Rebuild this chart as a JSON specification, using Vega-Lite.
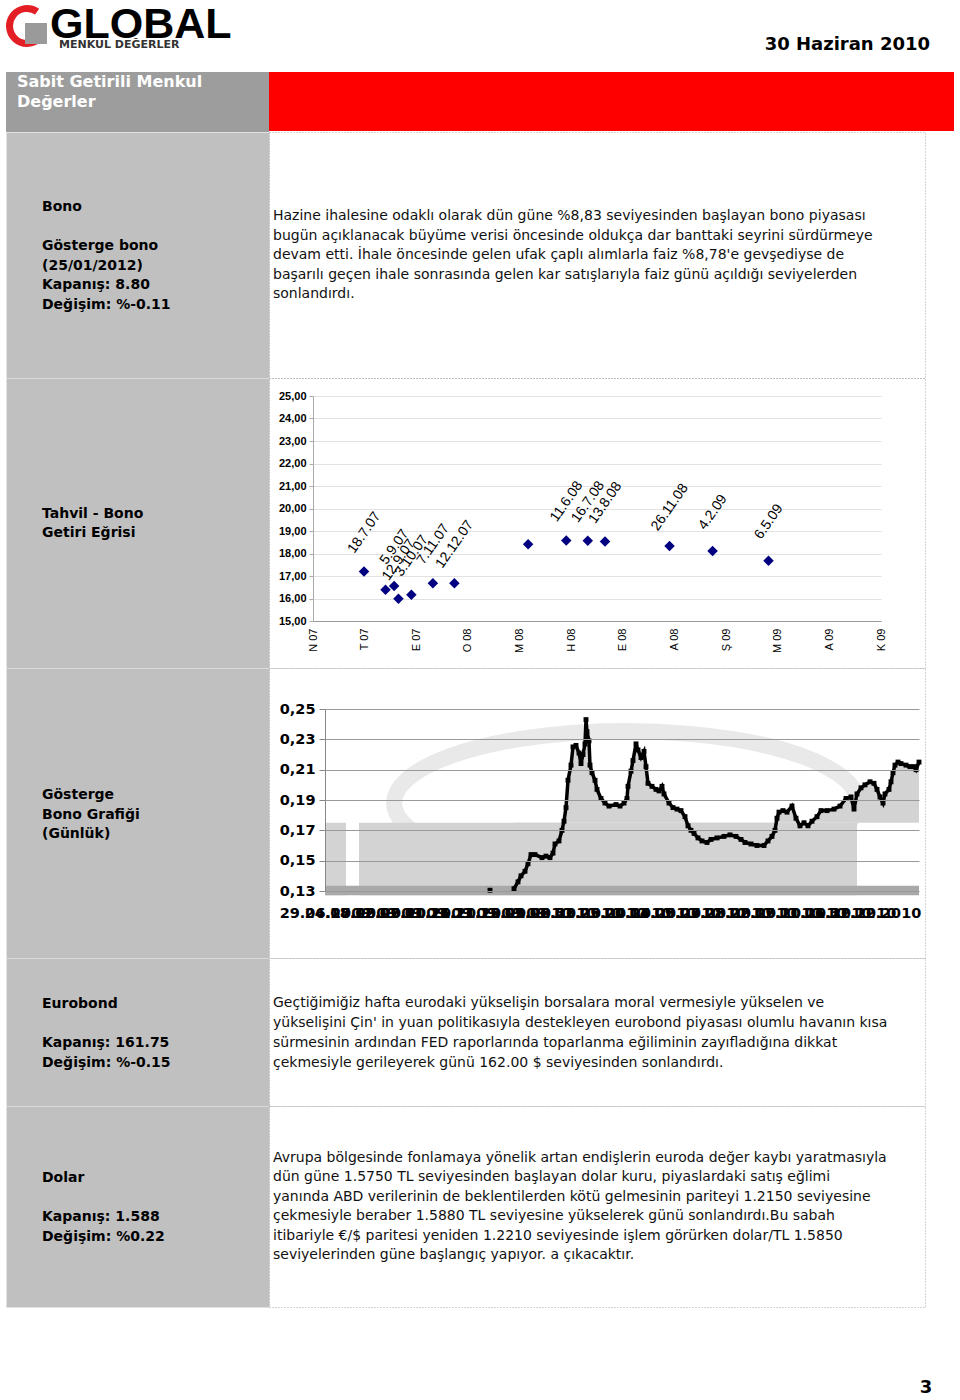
{
  "$schema": "https://vega.github.io/schema/vega-lite/v6.json",
  "padding": {"left": 5, "top": 0, "right": 0, "bottom": 0},
  "background": "white",
  "config": {"view": {"stroke": null}, "font": "DejaVu Sans"},
  "datasets": {
    "tahvil": [
      {"tarih": "2007-07-18", "getiri": 17.20, "etiket": "18.7.07"},
      {"tarih": "2007-08-22", "getiri": 16.39, "etiket": ""},
      {"tarih": "2007-09-05", "getiri": 16.56, "etiket": "5.9.07"},
      {"tarih": "2007-09-12", "getiri": 15.99, "etiket": "12.9.07"},
      {"tarih": "2007-10-03", "getiri": 16.17, "etiket": "3.10.07"},
      {"tarih": "2007-11-07", "getiri": 16.68, "etiket": "7.11.07"},
      {"tarih": "2007-12-12", "getiri": 16.68, "etiket": "12.12.07"},
      {"tarih": "2008-04-10", "getiri": 18.41, "etiket": ""},
      {"tarih": "2008-06-11", "getiri": 18.58, "etiket": "11.6.08"},
      {"tarih": "2008-07-16", "getiri": 18.57, "etiket": "16.7.08"},
      {"tarih": "2008-08-13", "getiri": 18.53, "etiket": "13.8.08"},
      {"tarih": "2008-11-26", "getiri": 18.33, "etiket": "26.11.08"},
      {"tarih": "2009-02-04", "getiri": 18.11, "etiket": "4.2.09"},
      {"tarih": "2009-05-06", "getiri": 17.68, "etiket": "6.5.09"}
    ],
    "egri": [
      {"gun": 165, "getiri": 0.1305},
      {"gun": 189, "getiri": 0.1315}, {"gun": 193, "getiri": 0.136}, {"gun": 196, "getiri": 0.140},
      {"gun": 200, "getiri": 0.143}, {"gun": 203, "getiri": 0.148}, {"gun": 206, "getiri": 0.154},
      {"gun": 210, "getiri": 0.154}, {"gun": 217, "getiri": 0.152}, {"gun": 221, "getiri": 0.153},
      {"gun": 225, "getiri": 0.152}, {"gun": 228, "getiri": 0.155}, {"gun": 230, "getiri": 0.161},
      {"gun": 234, "getiri": 0.163}, {"gun": 237, "getiri": 0.170}, {"gun": 239, "getiri": 0.176},
      {"gun": 241, "getiri": 0.185}, {"gun": 243, "getiri": 0.203}, {"gun": 246, "getiri": 0.213},
      {"gun": 248, "getiri": 0.225}, {"gun": 251, "getiri": 0.226}, {"gun": 254, "getiri": 0.221},
      {"gun": 256, "getiri": 0.214}, {"gun": 258, "getiri": 0.220}, {"gun": 260, "getiri": 0.227},
      {"gun": 261, "getiri": 0.243}, {"gun": 262, "getiri": 0.235}, {"gun": 264, "getiri": 0.229},
      {"gun": 265, "getiri": 0.213}, {"gun": 267, "getiri": 0.208}, {"gun": 270, "getiri": 0.203},
      {"gun": 272, "getiri": 0.197}, {"gun": 276, "getiri": 0.191}, {"gun": 280, "getiri": 0.188},
      {"gun": 284, "getiri": 0.186}, {"gun": 291, "getiri": 0.187}, {"gun": 295, "getiri": 0.186},
      {"gun": 299, "getiri": 0.188}, {"gun": 302, "getiri": 0.191}, {"gun": 303, "getiri": 0.199},
      {"gun": 306, "getiri": 0.209}, {"gun": 308, "getiri": 0.216}, {"gun": 311, "getiri": 0.227},
      {"gun": 313, "getiri": 0.223}, {"gun": 316, "getiri": 0.218}, {"gun": 319, "getiri": 0.222},
      {"gun": 321, "getiri": 0.212}, {"gun": 323, "getiri": 0.201}, {"gun": 327, "getiri": 0.199},
      {"gun": 331, "getiri": 0.197}, {"gun": 334, "getiri": 0.196}, {"gun": 337, "getiri": 0.199},
      {"gun": 339, "getiri": 0.194}, {"gun": 344, "getiri": 0.188}, {"gun": 348, "getiri": 0.185},
      {"gun": 352, "getiri": 0.184}, {"gun": 356, "getiri": 0.183}, {"gun": 360, "getiri": 0.179},
      {"gun": 363, "getiri": 0.173}, {"gun": 366, "getiri": 0.170}, {"gun": 369, "getiri": 0.168},
      {"gun": 373, "getiri": 0.165}, {"gun": 377, "getiri": 0.163}, {"gun": 382, "getiri": 0.162},
      {"gun": 386, "getiri": 0.164}, {"gun": 392, "getiri": 0.165}, {"gun": 399, "getiri": 0.166},
      {"gun": 405, "getiri": 0.167}, {"gun": 411, "getiri": 0.166}, {"gun": 416, "getiri": 0.164},
      {"gun": 420, "getiri": 0.162}, {"gun": 426, "getiri": 0.161}, {"gun": 432, "getiri": 0.160},
      {"gun": 439, "getiri": 0.160}, {"gun": 443, "getiri": 0.163}, {"gun": 447, "getiri": 0.166},
      {"gun": 450, "getiri": 0.170}, {"gun": 452, "getiri": 0.178}, {"gun": 454, "getiri": 0.182},
      {"gun": 458, "getiri": 0.183}, {"gun": 462, "getiri": 0.182}, {"gun": 467, "getiri": 0.186},
      {"gun": 471, "getiri": 0.178}, {"gun": 475, "getiri": 0.173}, {"gun": 479, "getiri": 0.175},
      {"gun": 483, "getiri": 0.173}, {"gun": 487, "getiri": 0.176}, {"gun": 492, "getiri": 0.179},
      {"gun": 496, "getiri": 0.183}, {"gun": 502, "getiri": 0.183}, {"gun": 509, "getiri": 0.184},
      {"gun": 515, "getiri": 0.186}, {"gun": 521, "getiri": 0.191}, {"gun": 526, "getiri": 0.192},
      {"gun": 529, "getiri": 0.184}, {"gun": 532, "getiri": 0.194}, {"gun": 536, "getiri": 0.198},
      {"gun": 540, "getiri": 0.200}, {"gun": 545, "getiri": 0.202}, {"gun": 549, "getiri": 0.201},
      {"gun": 552, "getiri": 0.197}, {"gun": 555, "getiri": 0.192}, {"gun": 558, "getiri": 0.188},
      {"gun": 560, "getiri": 0.194}, {"gun": 564, "getiri": 0.197}, {"gun": 566, "getiri": 0.202},
      {"gun": 568, "getiri": 0.208}, {"gun": 570, "getiri": 0.213}, {"gun": 573, "getiri": 0.215},
      {"gun": 576, "getiri": 0.214}, {"gun": 581, "getiri": 0.213}, {"gun": 585, "getiri": 0.212},
      {"gun": 589, "getiri": 0.212}, {"gun": 591, "getiri": 0.210}, {"gun": 594, "getiri": 0.215}
    ],
    "bolge": [
      {"gun": 0, "gun_son": 21, "getiri": 0.1272, "getiri_ust": 0.175},
      {"gun": 34, "gun_son": 532, "getiri": 0.1272, "getiri_ust": 0.175}
    ],
    "bant": [{"gun": 0, "gun_son": 594, "getiri": 0.1272, "getiri_ust": 0.1335}],
    "filigran": [{"gun": 301, "getiri": 0.188}]
  },
  "concat": [
    {
      "width": 263, "height": 72,
      "data": {"values": [{"ad": "GLOBAL", "alt": "MENKUL DEĞERLER"}]},
      "layer": [
        {"mark": {"type": "arc", "radius": 21, "radius2": 14, "theta": 2.4, "theta2": 6.9, "color": "#e31e24"},
         "encoding": {"x": {"value": 21}, "y": {"value": 26}}},
        {"mark": {"type": "rect", "color": "#9a9a9a"},
         "encoding": {"x": {"value": 19}, "x2": {"value": 41}, "y": {"value": 23}, "y2": {"value": 44}}},
        {"mark": {"type": "text", "align": "left", "baseline": "alphabetic", "font": "Liberation Sans", "fontWeight": "bold", "fontSize": 43, "color": "#000"},
         "encoding": {"x": {"value": 44}, "y": {"value": 38}, "text": {"field": "ad"}}},
        {"mark": {"type": "text", "align": "left", "baseline": "alphabetic", "font": "DejaVu Sans", "fontWeight": "bold", "fontSize": 11, "color": "#333"},
         "encoding": {"x": {"value": 53}, "y": {"value": 48}, "text": {"field": "alt"}}}
      ]
    },
    {
      "width": 656, "height": 72,
      "data": {"values": [{"metin": "30 Haziran 2010"}]},
      "mark": {"type": "text", "align": "right", "baseline": "middle", "font": "DejaVu Sans", "fontWeight": "bold", "fontSize": 18, "color": "#000"},
      "encoding": {"x": {"value": 661}, "y": {"value": 45}, "text": {"field": "metin"}}
    },
    {
      "width": 263, "height": 60,
      "view": {"fill": "#9d9d9d", "stroke": null},
      "data": {"values": [{"satir": 0, "metin": "Sabit Getirili Menkul"}, {"satir": 1, "metin": "Değerler"}]},
      "mark": {"type": "text", "align": "left", "baseline": "middle", "font": "DejaVu Sans", "fontWeight": "bold", "fontSize": 16, "color": "#ffffff"},
      "encoding": {
        "x": {"value": 11},
        "y": {"field": "satir", "type": "quantitative", "scale": {"domain": [0, 1], "range": [10, 30]}, "axis": null},
        "text": {"field": "metin"}
      }
    },
    {
      "width": 656, "height": 60,
      "data": {"values": [{"bant": "kırmızı"}]},
      "mark": {"type": "rect", "color": "#ff0000"},
      "encoding": {"x": {"value": 0}, "x2": {"value": 685}, "y": {"value": 0}, "y2": {"value": 59}}
    },
    {
      "width": 263, "height": 246,
      "view": {"fill": "#c0c0c0", "stroke": "#e4e4e4", "strokeDash": [1, 1]},
      "data": {"values": [
        {"satir": 0, "metin": "Bono"},
        {"satir": 2, "metin": "Gösterge bono"},
        {"satir": 3, "metin": "(25/01/2012)"},
        {"satir": 4, "metin": "Kapanış: 8.80"},
        {"satir": 5, "metin": "Değişim: %-0.11"}
      ]},
      "mark": {"type": "text", "align": "left", "baseline": "middle", "font": "DejaVu Sans", "fontWeight": "bold", "fontSize": 14, "color": "#000"},
      "encoding": {
        "x": {"value": 36},
        "y": {"field": "satir", "type": "quantitative", "scale": {"domain": [0, 1], "range": [75, 94.5]}, "axis": null},
        "text": {"field": "metin"}
      }
    },
    {
      "width": 656, "height": 246,
      "view": {"stroke": "#a8a8a8", "strokeDash": [1, 2]},
      "data": {"values": [
        {"satir": 0, "metin": "Hazine ihalesine odaklı olarak dün güne %8,83 seviyesinden başlayan bono piyasası"},
        {"satir": 1, "metin": "bugün açıklanacak büyüme verisi öncesinde oldukça dar banttaki seyrini sürdürmeye"},
        {"satir": 2, "metin": "devam etti. İhale öncesinde gelen ufak çaplı alımlarla faiz %8,78'e gevşediyse de"},
        {"satir": 3, "metin": "başarılı geçen ihale sonrasında gelen kar satışlarıyla faiz günü açıldığı seviyelerden"},
        {"satir": 4, "metin": "sonlandırdı."}
      ]},
      "mark": {"type": "text", "align": "left", "baseline": "middle", "font": "DejaVu Sans", "fontSize": 14, "color": "#111"},
      "encoding": {
        "x": {"value": 4},
        "y": {"field": "satir", "type": "quantitative", "scale": {"domain": [0, 1], "range": [84, 103.5]}, "axis": null},
        "text": {"field": "metin"}
      }
    },
    {
      "width": 263, "height": 290,
      "view": {"fill": "#c0c0c0", "stroke": "#e4e4e4", "strokeDash": [1, 1]},
      "data": {"values": [{"satir": 0, "metin": "Tahvil - Bono"}, {"satir": 1, "metin": "Getiri Eğrisi"}]},
      "mark": {"type": "text", "align": "left", "baseline": "middle", "font": "DejaVu Sans", "fontWeight": "bold", "fontSize": 14, "color": "#000"},
      "encoding": {
        "x": {"value": 36},
        "y": {"field": "satir", "type": "quantitative", "scale": {"domain": [0, 1], "range": [136, 155]}, "axis": null},
        "text": {"field": "metin"}
      }
    },
    {
      "width": 656, "height": 290,
      "view": {"stroke": "#a8a8a8", "strokeDash": [1, 2]},
      "data": {"name": "tahvil"},
      "encoding": {
        "x": {
          "field": "tarih", "type": "temporal",
          "scale": {"domain": [{"year": 2007, "month": 4, "date": 26}, {"year": 2009, "month": 11, "date": 5}], "range": [44, 612]},
          "axis": {
            "values": [
              {"year": 2007, "month": 4, "date": 26}, {"year": 2007, "month": 7, "date": 19}, {"year": 2007, "month": 10, "date": 11},
              {"year": 2008, "month": 1, "date": 3}, {"year": 2008, "month": 3, "date": 27}, {"year": 2008, "month": 6, "date": 19},
              {"year": 2008, "month": 9, "date": 11}, {"year": 2008, "month": 12, "date": 4}, {"year": 2009, "month": 2, "date": 26},
              {"year": 2009, "month": 5, "date": 21}, {"year": 2009, "month": 8, "date": 13}, {"year": 2009, "month": 11, "date": 5}
            ],
            "labelExpr": "['O','Ş','M','N','M','H','T','A','E','E','K','A'][month(datum.value)] + ' ' + timeFormat(datum.value, '%y')",
            "labelAngle": -90, "labelFont": "Liberation Sans", "labelFontSize": 11, "labelColor": "#000",
            "labelPadding": 7, "labelFlush": false, "labelOverlap": false,
            "ticks": false, "domainColor": "#999999", "grid": false, "title": null, "offset": -47
          }
        },
        "y": {
          "field": "getiri", "type": "quantitative",
          "scale": {"domain": [15, 25], "range": [243, 18], "nice": false, "zero": false},
          "axis": {
            "values": [15, 16, 17, 18, 19, 20, 21, 22, 23, 24, 25],
            "labelExpr": "replace(format(datum.value, '.2f'), '.', ',')",
            "labelFont": "Liberation Sans", "labelFontWeight": "bold", "labelFontSize": 11, "labelColor": "#000",
            "labelPadding": 3, "tickSize": 4, "tickColor": "#aaaaaa", "domainColor": "#aaaaaa",
            "grid": true, "gridColor": "#e2e2e2", "title": null, "offset": -44
          }
        }
      },
      "layer": [
        {"mark": {"type": "point", "shape": "diamond", "filled": true, "color": "#000080", "size": 110, "opacity": 1}},
        {"mark": {"type": "text", "angle": -55, "align": "center", "baseline": "middle", "dx": 32, "dy": -22, "font": "Liberation Sans", "fontSize": 14, "color": "#000"},
         "encoding": {"text": {"field": "etiket"}}}
      ]
    },
    {
      "width": 263, "height": 290,
      "view": {"fill": "#c0c0c0", "stroke": "#e4e4e4", "strokeDash": [1, 1]},
      "data": {"values": [{"satir": 0, "metin": "Gösterge"}, {"satir": 1, "metin": "Bono Grafiği"}, {"satir": 2, "metin": "(Günlük)"}]},
      "mark": {"type": "text", "align": "left", "baseline": "middle", "font": "DejaVu Sans", "fontWeight": "bold", "fontSize": 14, "color": "#000"},
      "encoding": {
        "x": {"value": 36},
        "y": {"field": "satir", "type": "quantitative", "scale": {"domain": [0, 1], "range": [127, 146.5]}, "axis": null},
        "text": {"field": "metin"}
      }
    },
    {
      "width": 656, "height": 290,
      "view": {"stroke": "#a8a8a8", "strokeDash": [1, 2]},
      "encoding": {
        "x": {
          "field": "gun", "type": "quantitative",
          "scale": {"domain": [0, 594], "range": [56, 650], "nice": false, "zero": false},
          "axis": {
            "values": [0, 25, 50, 75, 100, 125, 150, 175, 200, 225, 250, 275, 300, 325, 350, 375, 400, 425, 450, 475, 500, 525, 550],
            "labelExpr": "timeFormat(datetime(2009, 5, 29 + datum.value), '%d.%m.%Y')",
            "labelFont": "DejaVu Sans", "labelFontWeight": "bold", "labelFontSize": 14.5, "labelColor": "#000",
            "labelOverlap": false, "labelFlush": false, "labelPadding": 15,
            "ticks": false, "domain": false, "grid": false, "title": null, "offset": -67, "zindex": 1
          }
        },
        "y": {
          "field": "getiri", "type": "quantitative",
          "scale": {"domain": [0.13, 0.25], "range": [223, 41], "nice": false, "zero": false},
          "axis": {
            "values": [0.13, 0.15, 0.17, 0.19, 0.21, 0.23, 0.25],
            "labelExpr": "replace(format(datum.value, '.2f'), '.', ',')",
            "labelFont": "DejaVu Sans", "labelFontWeight": "bold", "labelFontSize": 14.5, "labelColor": "#000",
            "labelPadding": 4, "tickSize": 6, "tickColor": "#888888", "domainColor": "#888888",
            "grid": true, "gridColor": "#999999", "title": null, "offset": -56, "zindex": 1
          }
        }
      },
      "layer": [
        {"data": {"name": "filigran"},
         "mark": {"type": "point", "shape": "M 0.966 0.08 A 1 0.31 0 1 0 -0.342 0.291", "filled": false, "stroke": "#e9e9e9", "strokeWidth": 16, "size": 215000, "opacity": 1},
         "encoding": {}},
        {"data": {"name": "bolge"}, "mark": {"type": "rect", "color": "#d3d3d3"},
         "encoding": {"x2": {"field": "gun_son"}, "y2": {"field": "getiri_ust"}}},
        {"data": {"name": "egri"}, "transform": [{"filter": "datum.gun >= 180"}], "mark": {"type": "area", "color": "#d3d3d3", "opacity": 1},
         "encoding": {"y2": {"datum": 0.175}}},
        {"data": {"name": "bant"}, "mark": {"type": "rect", "color": "#a9a9a9"},
         "encoding": {"x2": {"field": "gun_son"}, "y2": {"field": "getiri_ust"}}},
        {"data": {"name": "egri"}, "transform": [{"filter": "datum.gun >= 180"}], "mark": {"type": "line", "color": "#000", "strokeWidth": 3.5},
         "encoding": {}},
        {"data": {"name": "egri"}, "mark": {"type": "square", "color": "#000", "size": 24, "opacity": 1}, "encoding": {}}
      ]
    },
    {
      "width": 263, "height": 148,
      "view": {"fill": "#c0c0c0", "stroke": "#e4e4e4", "strokeDash": [1, 1]},
      "data": {"values": [{"satir": 0, "metin": "Eurobond"}, {"satir": 2, "metin": "Kapanış: 161.75"}, {"satir": 3, "metin": "Değişim: %-0.15"}]},
      "mark": {"type": "text", "align": "left", "baseline": "middle", "font": "DejaVu Sans", "fontWeight": "bold", "fontSize": 14, "color": "#000"},
      "encoding": {
        "x": {"value": 36},
        "y": {"field": "satir", "type": "quantitative", "scale": {"domain": [0, 1], "range": [46, 65.5]}, "axis": null},
        "text": {"field": "metin"}
      }
    },
    {
      "width": 656, "height": 148,
      "view": {"stroke": "#a8a8a8", "strokeDash": [1, 2]},
      "data": {"values": [
        {"satir": 0, "metin": "Geçtiğimiğiz hafta eurodaki yükselişin borsalara moral vermesiyle yükselen ve"},
        {"satir": 1, "metin": "yükselişini Çin' in yuan politikasıyla destekleyen eurobond piyasası olumlu havanın kısa"},
        {"satir": 2, "metin": "sürmesinin ardından FED raporlarında toparlanma eğiliminin zayıfladığına dikkat"},
        {"satir": 3, "metin": "çekmesiyle gerileyerek günü 162.00 $ seviyesinden sonlandırdı."}
      ]},
      "mark": {"type": "text", "align": "left", "baseline": "middle", "font": "DejaVu Sans", "fontSize": 14, "color": "#111"},
      "encoding": {
        "x": {"value": 4},
        "y": {"field": "satir", "type": "quantitative", "scale": {"domain": [0, 1], "range": [45, 65]}, "axis": null},
        "text": {"field": "metin"}
      }
    },
    {
      "width": 263, "height": 201,
      "view": {"fill": "#c0c0c0", "stroke": "#e4e4e4", "strokeDash": [1, 1]},
      "data": {"values": [{"satir": 0, "metin": "Dolar"}, {"satir": 2, "metin": "Kapanış: 1.588"}, {"satir": 3, "metin": "Değişim: %0.22"}]},
      "mark": {"type": "text", "align": "left", "baseline": "middle", "font": "DejaVu Sans", "fontWeight": "bold", "fontSize": 14, "color": "#000"},
      "encoding": {
        "x": {"value": 36},
        "y": {"field": "satir", "type": "quantitative", "scale": {"domain": [0, 1], "range": [72, 91.5]}, "axis": null},
        "text": {"field": "metin"}
      }
    },
    {
      "width": 656, "height": 201,
      "view": {"stroke": "#a8a8a8", "strokeDash": [1, 2]},
      "data": {"values": [
        {"satir": 0, "metin": "Avrupa bölgesinde fonlamaya yönelik artan endişlerin euroda değer kaybı yaratmasıyla"},
        {"satir": 1, "metin": "dün güne 1.5750 TL seviyesinden başlayan dolar kuru, piyaslardaki satış eğlimi"},
        {"satir": 2, "metin": "yanında ABD verilerinin de beklentilerden kötü gelmesinin pariteyi 1.2150 seviyesine"},
        {"satir": 3, "metin": "çekmesiyle beraber 1.5880 TL seviyesine yükselerek günü sonlandırdı.Bu sabah"},
        {"satir": 4, "metin": "itibariyle €/$ paritesi yeniden 1.2210 seviyesinde işlem görürken dolar/TL 1.5850"},
        {"satir": 5, "metin": "seviyelerinden güne başlangıç yapıyor. a çıkacaktır."}
      ]},
      "mark": {"type": "text", "align": "left", "baseline": "middle", "font": "DejaVu Sans", "fontSize": 14, "color": "#111"},
      "encoding": {
        "x": {"value": 4},
        "y": {"field": "satir", "type": "quantitative", "scale": {"domain": [0, 1], "range": [52, 71.4]}, "axis": null},
        "text": {"field": "metin"}
      }
    },
    {
      "width": 263, "height": 93,
      "data": {"values": [{"metin": ""}]},
      "mark": {"type": "text"},
      "encoding": {"text": {"field": "metin"}}
    },
    {
      "width": 656, "height": 93,
      "data": {"values": [{"metin": "3"}]},
      "mark": {"type": "text", "align": "center", "baseline": "middle", "font": "DejaVu Sans", "fontWeight": "bold", "fontSize": 18, "color": "#000"},
      "encoding": {"x": {"value": 657}, "y": {"value": 81}, "text": {"field": "metin"}}
    }
  ],
  "columns": 2,
  "spacing": 0,
  "bounds": "flush"
}
